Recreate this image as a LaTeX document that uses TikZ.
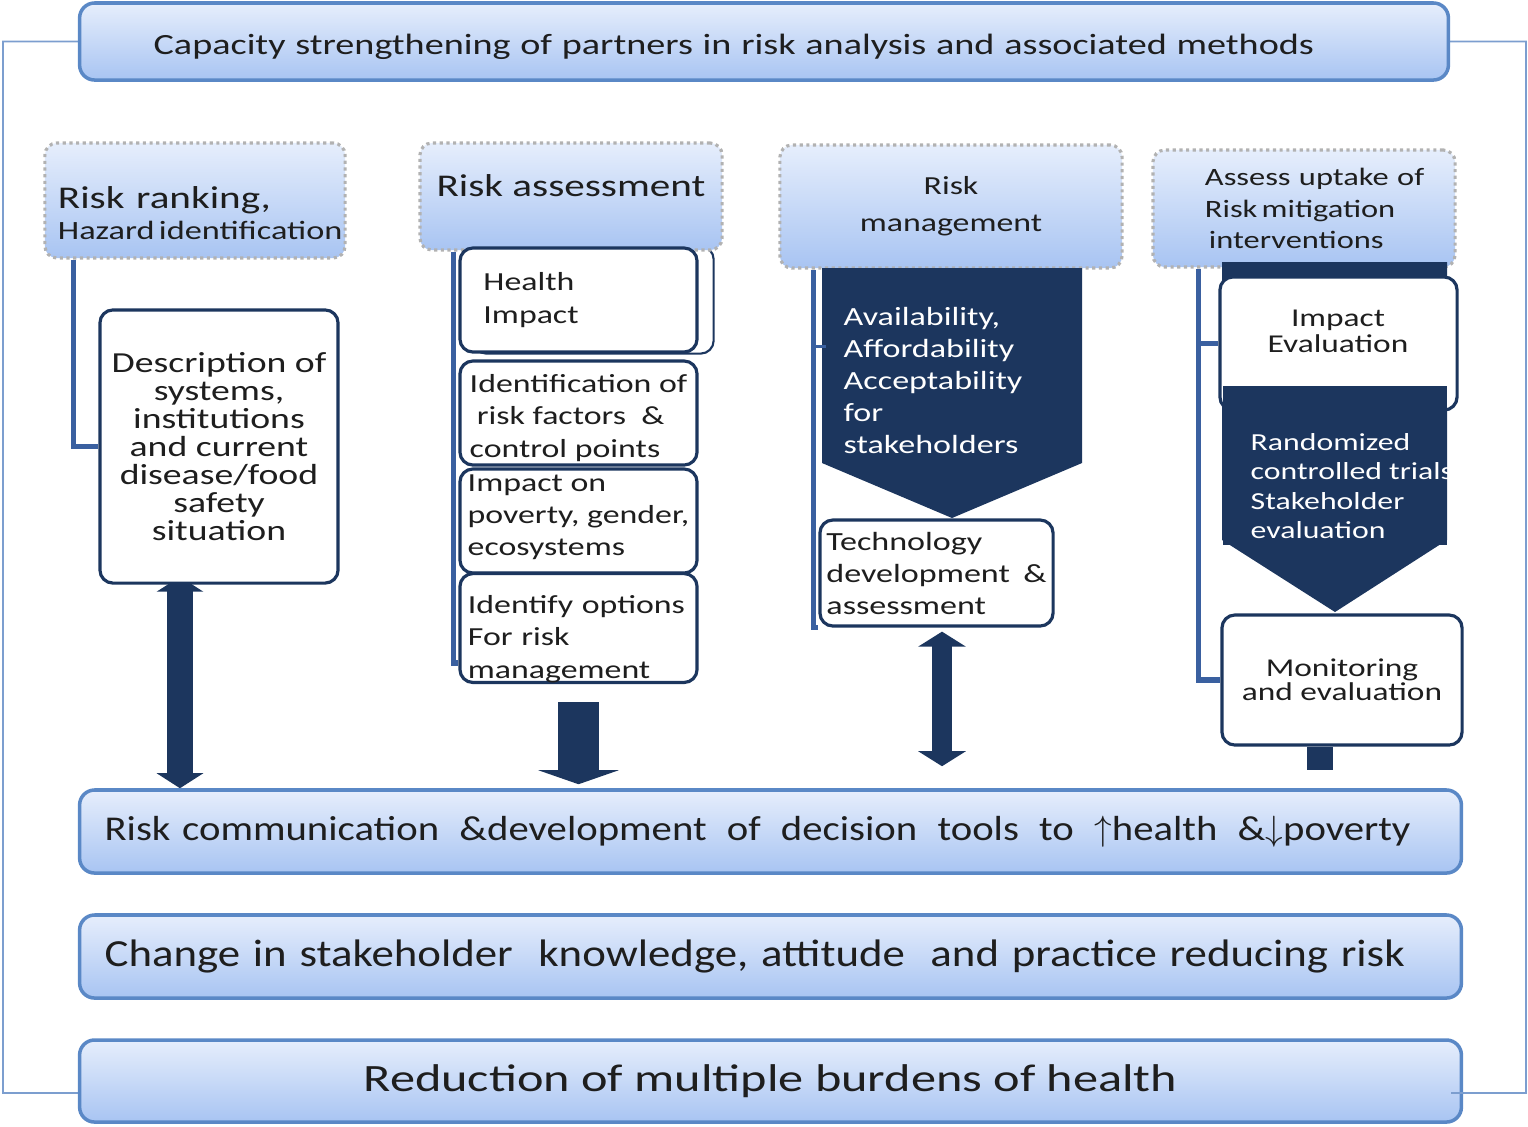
\documentclass[tikz,border=0pt]{standalone}
\usepackage{fontspec}
\setmainfont{Carlito}[FakeStretch=1.3]
\newfontfamily\bandfont{Carlito}[FakeStretch=1.17]
\usetikzlibrary{arrows.meta,calc,positioning,backgrounds}

\definecolor{gtop}{HTML}{E6EEFC}
\definecolor{gbot}{HTML}{A8C4F2}
\definecolor{bandline}{HTML}{5A88C6}
\definecolor{navy}{HTML}{1C365E}
\definecolor{linkblue}{HTML}{3A60A0}
\definecolor{framec}{HTML}{7C9ECF}
\definecolor{txt}{HTML}{1E1E1E}

\newcommand{\fsz}[2]{\fontsize{#1}{#2}\selectfont}
\newcommand{\lift}[1]{\rule{0pt}{#1}}
\hyphenpenalty=10000

\tikzset{
  band/.style={rounded corners=0.15cm, draw=bandline, line width=1pt,
    top color=gtop, bottom color=gbot, text=txt},
  colhead/.style={rounded corners=0.12cm, draw=gray!60, densely dotted,
    line width=0.9pt, top color=gtop, bottom color=gbot, text=txt},
  subbox/.style={rounded corners=0.13cm, draw=navy, line width=0.9pt,
    fill=white, text=txt, inner sep=0pt},
  chevtext/.style={text=white, align=left, inner sep=0pt},
  link/.style={draw=linkblue, line width=1.5pt},
  frame/.style={draw=framec, line width=0.5pt},
}

\begin{document}
\begin{tikzpicture}[x=0.01cm,y=-0.01cm]
\useasboundingbox (0,0) rectangle (1528,1126);

% top and bottom bands
\node[band, minimum width=13.68cm, minimum height=0.77cm, inner xsep=0.74cm, text width=12.2cm,
  align=left, font=\fsz{8.35}{10}] (cap) at (764,41.5)
  {\lift{9pt}Capacity strengthening of partners in risk analysis and associated methods};
\node[band, minimum width=13.81cm, minimum height=0.83cm, inner xsep=0.25cm, text width=13.31cm,
  align=left, font=\bandfont\fsz{9.9}{11}] (comm) at (770.5,831.5)
  {\makebox[13.05cm][l]{Risk communication\hfill\&development\hfill of\hfill decision\hfill tools\hfill to\hfill\ensuremath{\uparrow}health\hfill\&\ensuremath{\downarrow}poverty}};
\node[band, minimum width=13.81cm, minimum height=0.83cm, inner xsep=0.25cm, text width=13.31cm,
  align=left, font=\bandfont\fsz{10.9}{13}] (chg) at (770.5,956.5)
  {Change in stakeholder~ knowledge, attitude~ and practice reducing risk};
\node[band, minimum width=13.81cm, minimum height=0.82cm, font=\fsz{11}{13}] (red) at (770.5,1081)
  {Reduction of multiple burdens of health};

% column heads
\node[colhead, minimum width=3cm, minimum height=1.15cm, inner xsep=0.13cm, text width=2.74cm,
  align=left] (rr) at (195,200.5)
  {{\fsz{9}{11}\lift{13.5pt}Risk ranking,}\\[-3pt]{\fsz{7.5}{9}Hazard\,identification}};
\node[colhead, minimum width=3.02cm, minimum height=1.07cm, font=\fsz{9}{11}] (ra) at (571,196.5)
  {Risk assessment\rule[-6pt]{0pt}{6pt}};
\node[colhead, minimum width=3.42cm, minimum height=1.23cm, align=center, font=\fsz{7.4}{10.5}] (rm) at (951,206.5)
  {Risk\\management};
\node[colhead, minimum width=3.02cm, minimum height=1.17cm, text width=2.6cm, align=left,
  font=\fsz{7.1}{9}] (ass) at (1304,208.5)
  {\hspace*{0.31cm}Assess uptake of\\\hspace*{0.31cm}Risk\,mitigation\\\hspace*{0.35cm}interventions};

% column 1
\node[subbox, minimum width=2.38cm, minimum height=2.73cm, align=center, font=\fsz{8.25}{8}] (desc) at (219,446.5)
  {Description of\\systems,\\institutions\\and current\\disease/food\\safety\\situation};
\draw[link] ([xshift=0.3cm]rr.south west) |- (desc.west);

% column 2
\node[subbox, minimum width=2.37cm, minimum height=1.04cm, text width=1.9cm, align=left,
  font=\fsz{7.4}{9.2}] (hi) at (578.5,300) {Health\\Impact};
\node[subbox, minimum width=2.37cm, minimum height=1.04cm, align=left,
  font=\fsz{7.4}{9.2}] (idf) at (578.5,413) {\lift{7.9pt}Identification of\\\hspace*{2pt}risk factors~~\&\\control points};
\node[subbox, minimum width=2.37cm, minimum height=1.04cm, align=left,
  font=\fsz{7.4}{9.2}] (pov) at (578.5,521) {Impact on\\poverty, gender,\\ecosystems\rule[-3.3pt]{0pt}{0pt}};
\node[subbox, minimum width=2.37cm, minimum height=1.04cm, text width=2.21cm, align=left,
  font=\fsz{7.4}{9.2}] (opts) at (578.5,628) {\lift{11.3pt}Identify options\\For risk\\management};
\draw[link] ([xshift=0.35cm]ra.south west) |- ([yshift=-0.35cm]opts.west);

% column 3
\fill[navy] (822,268) -- (1082,268) -- (1082,463) -- (952,518) -- (822,463) -- cycle;
\node[chevtext, anchor=west, font=\fsz{7.45}{9.1}] (aaa) at (843,380)
  {Availability,\\Affordability\\Acceptability\\for\\stakeholders};
\node[subbox, minimum width=2.33cm, minimum height=1.06cm, text width=2.2cm, align=left,
  font=\fsz{7.45}{9.1}] (tech) at (936.5,573) {Technology\\development\hfill\&\\assessment};
\draw[link] ([xshift=0.35cm]rm.south west) |- (tech.south west);
\draw[link, line width=0.8pt] ([xshift=0.35cm, yshift=-0.77cm]rm.south west) -- ++(13,0);

% column 4
\coordinate (spine) at ([xshift=0.47cm]ass.south west);
\fill[navy] (1222,262) -- (1447,262) -- (1447,540) -- (1335,612) -- (1222,540) -- cycle;
\node[subbox, minimum width=2.37cm, minimum height=1.33cm] (imp) at (1338.5,343.5) {};
\fill[navy] (1223,386) rectangle (1447,545);
\node[text=txt, align=center, font=\fsz{7.3}{7.4}] (impt) at (1338,331) {Impact\\Evaluation};
\begin{scope}
  \clip (1223,386) rectangle (1447,545);
  \node[chevtext, anchor=west, font=\fsz{6.95}{8.4}] (rct) at (1250,486)
    {Randomized\\controlled trials\\Stakeholder\\evaluation};
\end{scope}
\node[subbox, minimum width=2.40cm, minimum height=1.30cm, align=center, font=\fsz{7.3}{6.9}] (mon) at (1342,680)
  {Monitoring\\and evaluation};
\draw[link] (spine) |- (mon.west);
\draw[link] (imp.west) -- (imp.west -| spine);
\fill[navy] ([xshift=-0.35cm]mon.south) rectangle ([xshift=-0.09cm, yshift=-0.23cm]mon.south);

\begin{scope}[on background layer]
  % outer frame
  \draw[frame] (cap.west) -| (3,1093) -- ([yshift=-0.12cm]red.west);
  \draw[frame] (cap.east) -| (1526,1093) -- ([yshift=-0.12cm]red.east);
  % second outline behind health impact
  \draw[navy, line width=0.6pt, rounded corners=0.13cm] ([xshift=0.15cm]hi.south west) rectangle ([xshift=0.15cm]hi.north east);
  % fat arrows
  \draw[navy, line width=0.26cm, {Triangle[width=0.46cm,length=0.15cm]}-{Triangle[width=0.46cm,length=0.15cm]}]
    ([xshift=-0.39cm, yshift=0.08cm]desc.south) -- ([xshift=-0.39cm]desc.south |- comm.north);
\end{scope}
\draw[frame] ([yshift=-0.12cm]red.east) -- ++(-12,0);
\draw[navy, line width=0.4cm, -{Triangle[width=0.8cm,length=0.14cm]}]
  ([yshift=-0.18cm]opts.south) -- ([yshift=0.04cm]opts.south |- comm.north);
\draw[navy, line width=0.2cm, {Triangle[width=0.47cm,length=0.15cm]}-{Triangle[width=0.47cm,length=0.15cm]}]
  ([xshift=0.055cm, yshift=-0.04cm]tech.south) -- ([xshift=0.055cm, yshift=0.22cm]tech.south |- comm.north);
\end{tikzpicture}
\end{document}
